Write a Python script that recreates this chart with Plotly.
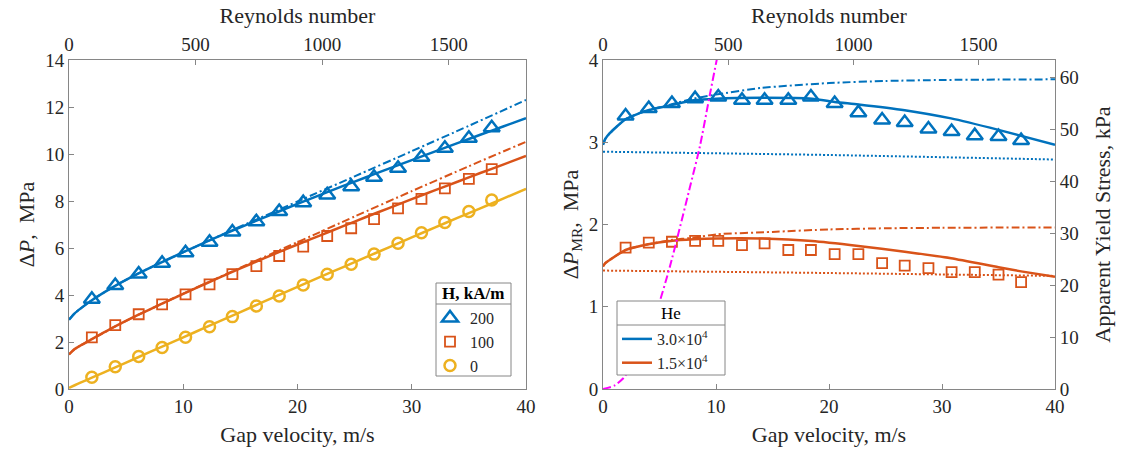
import plotly.graph_objects as go

# ---------------- data ----------------
# Left panel: pressure drop vs gap velocity
v_exp = [2.0, 4.05, 6.1, 8.15, 10.2, 12.3, 14.3, 16.4, 18.4, 20.5, 22.6, 24.7, 26.7, 28.8, 30.85, 32.9, 35.0, 37.0]
dp_200 = [3.82, 4.40, 4.89, 5.35, 5.80, 6.24, 6.68, 7.12, 7.55, 7.93, 8.26, 8.61, 9.01, 9.39, 9.86, 10.24, 10.67, 11.12]
dp_100 = [2.20, 2.72, 3.18, 3.60, 4.03, 4.45, 4.89, 5.23, 5.66, 6.06, 6.51, 6.84, 7.23, 7.69, 8.09, 8.54, 8.94, 9.36]
dp_0 = [0.50, 0.95, 1.38, 1.77, 2.20, 2.65, 3.08, 3.53, 3.96, 4.43, 4.88, 5.31, 5.74, 6.20, 6.65, 7.09, 7.55, 8.04]

v_line = [0, 0.5, 1, 2, 4, 6, 8, 10, 12, 14, 16, 18, 20, 22, 24, 26, 28, 30, 32, 34, 36, 38, 40]
fit_200 = [2.95, 3.22, 3.42, 3.78, 4.38, 4.90, 5.37, 5.82, 6.26, 6.68, 7.08, 7.48, 7.88, 8.26, 8.64, 9.01, 9.38, 9.74, 10.10, 10.46, 10.82, 11.17, 11.52]
fit_100 = [1.47, 1.70, 1.85, 2.12, 2.65, 3.14, 3.60, 4.05, 4.49, 4.92, 5.34, 5.75, 6.15, 6.54, 6.93, 7.32, 7.70, 8.08, 8.45, 8.82, 9.19, 9.55, 9.92]
fit_0 = [0.05, 0.16, 0.27, 0.48, 0.91, 1.34, 1.77, 2.20, 2.63, 3.06, 3.49, 3.92, 4.35, 4.77, 5.19, 5.61, 6.03, 6.45, 6.87, 7.28, 7.69, 8.10, 8.52]

v_dd_200 = [0, 0.5, 1, 2, 4, 6, 8, 10, 12, 14, 20, 25, 30, 35, 40]
dd_200 = [2.95, 3.22, 3.42, 3.78, 4.38, 4.90, 5.37, 5.82, 6.26, 6.70, 7.98, 9.05, 10.12, 11.20, 12.30]
v_dd_100 = [0, 0.5, 1, 2, 4, 6, 8, 10, 15, 20, 25, 30, 35, 40]
dd_100 = [1.47, 1.70, 1.85, 2.12, 2.65, 3.14, 3.60, 4.06, 5.16, 6.25, 7.34, 8.42, 9.48, 10.52]

# Right panel: MR pressure drop vs gap velocity
dpmr_30 = [3.32, 3.41, 3.47, 3.53, 3.55, 3.51, 3.51, 3.51, 3.55, 3.47, 3.36, 3.27, 3.24, 3.16, 3.13, 3.08, 3.07, 3.02]
dpmr_15 = [1.72, 1.78, 1.79, 1.80, 1.80, 1.75, 1.77, 1.69, 1.69, 1.64, 1.64, 1.53, 1.50, 1.47, 1.42, 1.42, 1.39, 1.30]

v_r30 = [0, 0.2, 0.6, 2, 4, 6, 8, 10, 14, 18.5, 20.5, 22.6, 26.7, 30.8, 35, 40]
mr_30 = [2.97, 3.04, 3.11, 3.28, 3.39, 3.45, 3.51, 3.53, 3.54, 3.53, 3.49, 3.46, 3.39, 3.29, 3.15, 2.97]
v_r30dd = [0, 0.2, 0.6, 2, 4, 6, 8, 10, 14, 20, 25, 30, 35, 40]
mr_30dd = [2.97, 3.04, 3.11, 3.28, 3.39, 3.46, 3.53, 3.58, 3.66, 3.72, 3.745, 3.757, 3.762, 3.765]
v_dot = [0, 20, 40]
mr_30dot = [2.885, 2.845, 2.79]

v_r15 = [0, 0.2, 0.6, 2, 4, 6, 8, 10, 14, 18.5, 22.6, 26.7, 30.8, 35, 37, 40]
mr_15 = [1.49, 1.53, 1.57, 1.69, 1.76, 1.80, 1.82, 1.83, 1.83, 1.80, 1.74, 1.67, 1.59, 1.48, 1.43, 1.365]
v_r15dd = [0, 0.2, 0.6, 2, 4, 6, 8, 10, 15, 20, 25, 30, 40]
mr_15dd = [1.49, 1.53, 1.57, 1.69, 1.76, 1.81, 1.84, 1.88, 1.91, 1.94, 1.954, 1.96, 1.965]
mr_15dot = [1.44, 1.41, 1.375]

# Apparent yield stress (kPa) vs Reynolds number
re_ys = [0, 45, 81, 135, 214, 268, 347, 387, 427, 454, 470]
ys_kpa = [0, 0.63, 2.06, 6.0, 15.0, 23.7, 38.8, 46.7, 56.7, 63.3, 67.0]

# Tick labels / legend titles
left_yticks = [0, 2, 4, 6, 8, 10, 12, 14]
right_yticks = [0, 1, 2, 3, 4]
x_ticks = [0, 10, 20, 30, 40]
re_ticks = [0, 500, 1000, 1500]
ys_ticks = [0, 10, 20, 30, 40, 50, 60]
legend1_title = '<b>H, kA/m</b>'
legend2_title = 'He'

# ---------------- styling ----------------
BLUE = '#0072BD'
RED = '#D95319'
YEL = '#EDB120'
MAG = '#FF00FF'
AX = '#868686'
TXT = '#262626'
FONT = 'Liberation Serif'
DASHDOT = '8px,3px,2px,3px'
DOT = '2px,2px'

W, H = 1128, 456
L1, R1 = 69 / W, 526 / W
L2, R2 = 603 / W, 1055 / W
B, T = 1 - 389 / H, 1 - 60 / H

fig = go.Figure()


def line(x, y, color, dash='solid', width=2.5, xa='x', ya='y', name=None, legend=None):
    fig.add_trace(go.Scatter(
        x=x, y=y, mode='lines', line=dict(color=color, width=width, dash=dash, shape='spline', smoothing=0.6),
        xaxis=xa, yaxis=ya, name=name or '', showlegend=legend is not None,
        legend=legend or 'legend', hoverinfo='skip'))


def markers(x, y, color, symbol, size, lw, xa='x', ya='y', name=None, legend=None):
    fig.add_trace(go.Scatter(
        x=x, y=y, mode='markers',
        marker=dict(symbol=symbol, size=size, color=color, line=dict(color=color, width=lw)),
        xaxis=xa, yaxis=ya, name=name or '', showlegend=legend is not None,
        legend=legend or 'legend'))


# Left panel lines
line(v_dd_200, dd_200, BLUE, DASHDOT, 2)
line(v_dd_100, dd_100, RED, DASHDOT, 2)
line(v_line, fit_200, BLUE)
line(v_line, fit_100, RED)
line(v_line, fit_0, YEL)
# Left panel markers (legend)
markers(v_exp, dp_200, BLUE, 'triangle-up-open', 14, 2.5, name='200', legend='legend')
markers(v_exp, dp_100, RED, 'square-open', 10, 1.8, name='100', legend='legend')
markers(v_exp, dp_0, YEL, 'circle-open', 11, 2.5, name='0', legend='legend')
# dummy for top axis
fig.add_trace(go.Scatter(x=[0], y=[None], xaxis='x3', yaxis='y', showlegend=False, hoverinfo='skip'))

# Right panel
line(v_r30dd, mr_30dd, BLUE, DASHDOT, 2, 'x2', 'y2')
line(v_r15dd, mr_15dd, RED, DASHDOT, 2, 'x2', 'y2')
line(v_dot, mr_30dot, BLUE, DOT, 2, 'x2', 'y2')
line(v_dot, mr_15dot, RED, DOT, 2, 'x2', 'y2')
line(v_r30, mr_30, BLUE, 'solid', 2.5, 'x2', 'y2', name='3.0\u00d710<sup>4</sup>', legend='legend2')
line(v_r15, mr_15, RED, 'solid', 2.5, 'x2', 'y2', name='1.5\u00d710<sup>4</sup>', legend='legend2')
markers(v_exp, dpmr_30, BLUE, 'triangle-up-open', 14, 2.5, 'x2', 'y2')
markers(v_exp, dpmr_15, RED, 'square-open', 10, 1.8, 'x2', 'y2')
fig.add_trace(go.Scatter(x=re_ys, y=ys_kpa, mode='lines', line=dict(color=MAG, width=2, dash=DASHDOT, shape='spline', smoothing=0.6),
                         xaxis='x4', yaxis='y3', showlegend=False, hoverinfo='skip'))

tickfont = dict(family=FONT, size=19, color=TXT)
titlefont = dict(family=FONT, size=22, color=TXT)
base = dict(showline=True, linecolor=AX, linewidth=1, ticks='inside', ticklen=5, tickcolor=AX,
            tickfont=tickfont, showgrid=False, zeroline=False, automargin=False)

legfont = dict(family=FONT, size=16, color=TXT)


def px_rect(x0, y0, x1, y1):
    return dict(type='rect', xref='paper', yref='paper', x0=x0 / W, x1=x1 / W, y0=1 - y1 / H, y1=1 - y0 / H,
                fillcolor='white', line=dict(color=AX, width=1), layer='above')


def px_hline(x0, x1, y):
    return dict(type='line', xref='paper', yref='paper', x0=x0 / W, x1=x1 / W, y0=1 - y / H, y1=1 - y / H,
                line=dict(color=AX, width=1), layer='above')


fig.update_layout(
    width=W, height=H, margin=dict(l=0, r=0, t=0, b=0),
    paper_bgcolor='white', plot_bgcolor='white',
    xaxis=dict(base, domain=[L1, R1], range=[0, 40], tickvals=x_ticks, anchor='y',
               title=dict(text='Gap velocity, m/s', font=titlefont, standoff=10)),
    yaxis=dict(base, domain=[B, T], range=[0, 14], tickvals=left_yticks, anchor='x', mirror=True,
               title=dict(text='\u0394<i>P</i>,  MPa', font=titlefont, standoff=4)),
    xaxis3=dict(base, overlaying='x', side='top', anchor='y', range=[0, 1805], tickvals=re_ticks,
                title=dict(text='Reynolds number', font=titlefont, standoff=4)),
    xaxis2=dict(base, domain=[L2, R2], range=[0, 40], tickvals=x_ticks, anchor='y2',
                title=dict(text='Gap velocity, m/s', font=titlefont, standoff=10)),
    yaxis2=dict(base, domain=[B, T], range=[0, 4], tickvals=right_yticks, anchor='x2',
                title=dict(text='\u0394<i>P</i><sub>MR</sub>,  MPa', font=titlefont, standoff=4)),
    xaxis4=dict(base, overlaying='x2', side='top', anchor='y2', range=[0, 1805], tickvals=re_ticks,
                title=dict(text='Reynolds number', font=titlefont, standoff=4)),
    yaxis3=dict(base, overlaying='y2', side='right', anchor='x2', range=[0, 63.3], tickvals=ys_ticks,
                title=dict(text='Apparent Yield Stress, kPa', font=titlefont, standoff=16)),
    legend=dict(x=430 / W, y=1 - 301 / H, xanchor='left', yanchor='top', bgcolor='rgba(0,0,0,0)',
                borderwidth=0, font=legfont, itemwidth=30, tracegroupgap=0),
    legend2=dict(x=617 / W, y=1 - 322 / H, xanchor='left', yanchor='top', bgcolor='rgba(0,0,0,0)',
                 borderwidth=0, font=legfont, itemwidth=30, tracegroupgap=0),
    shapes=[
        px_rect(436, 283, 511, 376),
        px_hline(436, 511, 304),
        px_rect(617, 301, 725, 375),
        px_hline(617, 725, 325),
    ],
    annotations=[
        dict(text=legend1_title, xref='paper', yref='paper', x=473.5 / W, y=1 - 293.5 / H,
             xanchor='center', yanchor='middle', showarrow=False, font=dict(family=FONT, size=17, color='black')),
        dict(text=legend2_title, xref='paper', yref='paper', x=671 / W, y=1 - 313 / H,
             xanchor='center', yanchor='middle', showarrow=False, font=dict(family=FONT, size=17, color='black')),
    ],
)

fig.write_html('out.html')
